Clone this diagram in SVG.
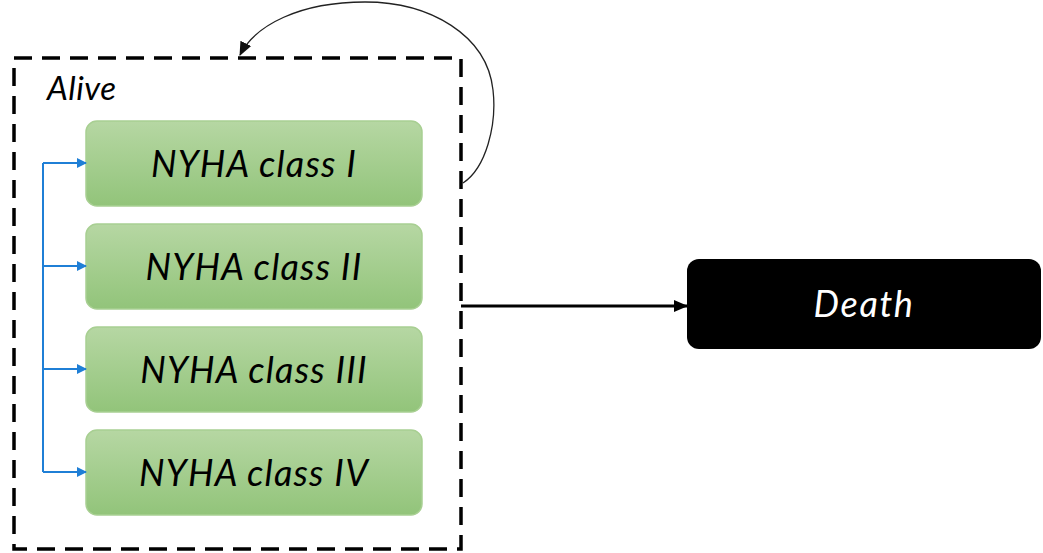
<svg xmlns="http://www.w3.org/2000/svg" width="1043" height="553" viewBox="0 0 1043 553">
<defs>
<linearGradient id="g" x1="0" y1="0" x2="0" y2="1">
<stop offset="0" stop-color="#b6d7a3"/>
<stop offset="1" stop-color="#92c47a"/>
</linearGradient>
<marker id="blue" markerWidth="10" markerHeight="10" refX="9" refY="5" orient="auto" markerUnits="userSpaceOnUse" viewBox="0 0 10 10">
<path d="M0,0 L10,5 L0,10 z" fill="#1f7fd6"/>
</marker>
<marker id="blk" markerWidth="14" markerHeight="14" refX="13" refY="7" orient="auto" markerUnits="userSpaceOnUse" viewBox="0 0 14 14">
<path d="M0,1 L14,7 L0,13 z" fill="#000"/>
</marker>
<marker id="thin" markerWidth="14" markerHeight="14" refX="13" refY="7" orient="auto" markerUnits="userSpaceOnUse" viewBox="0 0 14 14">
<path d="M0,1 L14,7 L0,13 z" fill="#111"/>
</marker>
</defs>
<style>
.nyha{fill:url(#g);stroke:#a8cf92;stroke-width:1.5}
.t{font-family:Lato,"Liberation Sans",sans-serif;font-style:italic;text-anchor:middle}
.nt{font-size:36px;fill:#000;letter-spacing:1.2px}
.blue{fill:none;stroke:#1f7fd6;stroke-width:2}
</style>
<rect width="1043" height="553" fill="#fff"/>
<g id="alive">
<rect x="14" y="58" width="447" height="491" fill="none" stroke="#000" stroke-width="3.5" stroke-dasharray="18,10"/>
<text x="47" y="100" font-family="Lato,'Liberation Sans',sans-serif" font-style="italic" font-size="33" letter-spacing="0.5">Alive</text>
</g>
<g id="nyha1"><rect class="nyha" x="86" y="121" width="336" height="85" rx="11"/><text class="t nt" x="254" y="177">NYHA class I</text></g>
<g id="nyha2"><rect class="nyha" x="86" y="224" width="336" height="85" rx="11"/><text class="t nt" x="254" y="280">NYHA class II</text></g>
<g id="nyha3"><rect class="nyha" x="86" y="327" width="336" height="85" rx="11"/><text class="t nt" x="254" y="383">NYHA class III</text></g>
<g id="nyha4"><rect class="nyha" x="86" y="430" width="336" height="85" rx="11"/><text class="t nt" x="254" y="486">NYHA class IV</text></g>
<g id="death"><rect x="687" y="259" width="354" height="90" rx="12" fill="#000"/><text class="t" x="864" y="317" font-size="36" fill="#fff" letter-spacing="1.6">Death</text></g>
<g id="connectors">
<path class="blue" d="M43,163 V472"/>
<path class="blue" d="M43,163 H86" marker-end="url(#blue)"/>
<path class="blue" d="M43,266 H86" marker-end="url(#blue)"/>
<path class="blue" d="M43,369 H86" marker-end="url(#blue)"/>
<path class="blue" d="M43,472 H86" marker-end="url(#blue)"/>
<path d="M461,306 H687" fill="none" stroke="#000" stroke-width="3" marker-end="url(#blk)"/>
<path d="M463,183 C486,168 497,125 493,90 C487,35 430,2 365,2 C300,2 255,25 240,55" fill="none" stroke="#222" stroke-width="1.3" marker-end="url(#thin)"/>
</g>
</svg>
